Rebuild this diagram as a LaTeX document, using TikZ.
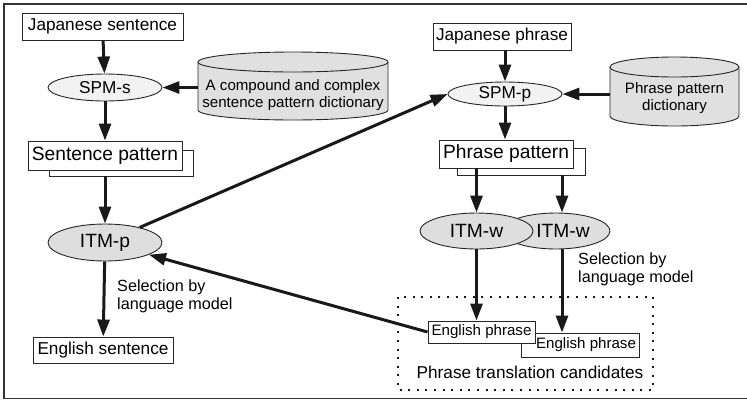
\documentclass[tikz,border=0pt]{standalone}
\usepackage{fontspec}
\setmainfont{Liberation Sans}
\usetikzlibrary{arrows.meta,shapes.geometric}
\begin{document}
\begin{tikzpicture}[x=1pt,y=-1pt,
  box/.style={rectangle, draw=black!85, line width=0.9pt, fill=white, inner sep=0pt},
  oval/.style={ellipse, draw=black!85, line width=0.9pt, inner sep=0pt},
  spm/.style={oval, fill=black!5},
  itm/.style={oval, fill=black!13},
  cyl/.style={draw=black!85, line width=0.9pt, fill=black!12},
  arr/.style={line width=3pt, draw=black!90, -{Triangle[length=17pt,width=12pt]}},
  fs/.style={font=\fontsize{15.1}{17}\selectfont},
  fm/.style={font=\fontsize{17.2}{20}\selectfont},
  fl/.style={font=\fontsize{19.2}{22}\selectfont},
  note/.style={font=\fontsize{16.2}{18}\selectfont, align=left, inner sep=0pt, anchor=north west},
  dots/.style={line width=2pt, black!90, dash pattern=on 2pt off 6.6pt}
]
\useasboundingbox (0,0) rectangle (747,400);

% outer frame (open on the right)
\draw[line width=1.2pt, black!80] (747,4) -- (4,4) -- (4,398.5) -- (747,398.5);

% ---------- sentence level ----------
\node[box, fm, minimum width=161, minimum height=27] (js) at (102.5,26.5) {Japanese sentence};
\node[spm, fm, minimum width=114, minimum height=27] (spms) at (105,87.5) {SPM-s};

% compound/complex sentence pattern dictionary
\path[cyl] (198,62) arc[start angle=180, end angle=360, x radius=95, y radius=10]
  -- (388,110) arc[start angle=0, end angle=180, x radius=95, y radius=10] -- cycle;
\draw[line width=0.9pt, black!85] (198,62) arc[start angle=180, end angle=0, x radius=95, y radius=10];
\node[fs, align=center, inner sep=0pt, minimum width=190] (dict1) at (293,95)
  {A compound and complex\\sentence pattern dictionary};

\node[box, minimum width=144, minimum height=26] (sps) at (121,163) {};
\node[box, fl, minimum width=154, minimum height=29] (sp) at (105,155.5) {Sentence pattern};
\node[itm, fl, minimum width=114, minimum height=37] (itmp) at (105,242.5) {ITM-p};
\node[box, fm, minimum width=140, minimum height=26] (es) at (103,350) {English sentence};
\node[note] (sel1) at (117,280) {Selection by\\language model};

% ---------- phrase level ----------
\node[box, fm, minimum width=138, minimum height=27] (jp) at (502,36.5) {Japanese phrase};
\node[spm, fm, minimum width=114, minimum height=24] (spmp) at (505,94) {SPM-p};

% phrase pattern dictionary
\path[cyl] (610,67) arc[start angle=180, end angle=360, x radius=64.5, y radius=10]
  -- (739,116) arc[start angle=0, end angle=180, x radius=64.5, y radius=10] -- cycle;
\draw[line width=0.9pt, black!85] (610,67) arc[start angle=180, end angle=0, x radius=64.5, y radius=10];
\node[fs, align=center, inner sep=0pt, minimum width=129] (dict2) at (674.5,98)
  {Phrase pattern\\dictionary};

\node[box, minimum width=128, minimum height=27] (pps) at (521,161.5) {};
\node[box, fl, minimum width=134, minimum height=28] (pp) at (506,154) {Phrase pattern};

\node[itm, fl, minimum width=108, minimum height=36] (w2) at (556,231) {\hspace{14pt}ITM-w};
\node[itm, fl, minimum width=113, minimum height=36] (w1) at (476.5,231) {ITM-w};
\node[note] (sel2) at (578,253) {Selection by\\language model};

% phrase translation candidates
\draw[dots] (398,297) rectangle (653,390);
\node[box, fs, minimum width=118, minimum height=24] (ep2) at (580,345) {\hspace{12pt}English phrase};
\node[box, fs, minimum width=107, minimum height=22] (ep1) at (481.5,332) {English phrase};
\node[fm, inner sep=0pt] (cand) at (530,372) {Phrase translation candidates};

% ---------- connectors ----------
\draw[arr] (js) -- (spms);
\draw[arr] (dict1.west |- spms) -- (spms);
\draw[arr] (spms) -- (sp);
\draw[arr] (sps.south -| itmp) -- (itmp);
\draw[arr] (itmp) -- (es);
\draw[arr] (itmp) -- (spmp.west);

\draw[arr] (jp.south -| spmp) -- (spmp);
\draw[arr] (dict2.west |- spmp) -- (spmp);
\draw[arr] (spmp) -- (pp.north -| spmp);
\draw[arr] (pp.south -| w1) -- (w1);
\draw[arr] (pps.south -| 562,0) -- (w2.north -| 562,0);
\draw[arr] (w1) -- (ep1.north -| w1);
\draw[arr] (w2.south -| 562,0) -- (ep2.north -| 562,0);
\draw[arr] (ep1.west) -- (itmp);
\end{tikzpicture}
\end{document}
